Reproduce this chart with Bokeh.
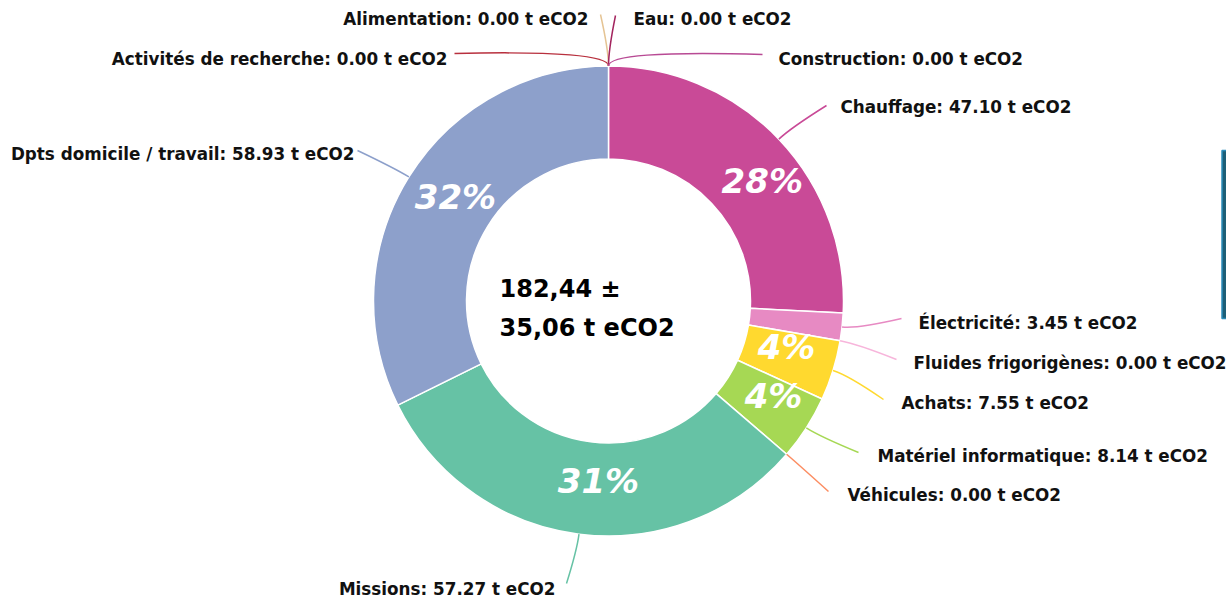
import math
import numpy as np
from bokeh.plotting import figure
from bokeh.models import Range1d, ColumnDataSource
from bokeh.embed import file_html
from bokeh.resources import INLINE
from bokeh.core.properties import value

# ---------------- data ----------------
categories = ["Chauffage", "Électricité", "Fluides frigorigènes", "Achats",
              "Matériel informatique", "Véhicules", "Missions",
              "Dpts domicile / travail", "Activités de recherche",
              "Alimentation", "Eau", "Construction"]
values = [47.10, 3.45, 0.00, 7.55, 8.14, 0.00, 57.27, 58.93, 0.00, 0.00, 0.00, 0.00]
pct_labels = ["28%", "", "", "4%", "4%", "", "31%", "32%", "", "", "", ""]
uncertainty = 35.06
unit = "t eCO2"

# ---------------- styles / layout ----------------
colors = ["#c94a97", "#e78ac3", "#f7b5db", "#ffd92f", "#a6d854", "#fc8d62",
          "#66c2a5", "#8da0cb", "#b8303e", "#e5c494", "#a3245e", "#b84a94"]

W, H = 1226, 599


def sy(y):
    # picture y (from top) -> data y
    return H - y


CX, CY = 608, sy(300.5)
R_OUT, R_IN = 235, 142
R_PCT = 188

# label anchor (picture coords) and alignment
label_pos = [(840, 106, "left"), (918, 322, "left"), (913, 362, "left"),
             (901, 402, "left"), (877, 455, "left"), (847, 494, "left"),
             (555, 588, "right"), (354, 153, "right"), (447, 58, "right"),
             (588, 18, "right"), (633, 18, "left"), (778, 58, "left")]
line_end = [(826, 105), (901, 318), (896, 359), (883, 399), (858, 452),
            (828, 491), (566, 583), (357, 150), (454, 53), (600, 14),
            (615, 15), (762, 54)]
pct_offset = [(17.5, 9.5), (0, 0), (0, 0), (-1.6, -10), (6.8, -7), (0, 0),
              (13.6, -7), (6.6, -5), (0, 0), (0, 0), (0, 0), (0, 0)]

# ---------------- geometry from data ----------------
total = sum(values)
cum = np.concatenate([[0.0], np.cumsum(values)])
start = math.pi / 2 - 2 * math.pi * cum[:-1] / total
end = math.pi / 2 - 2 * math.pi * cum[1:] / total
mid = (start + end) / 2

p = figure(width=W, height=H, x_range=Range1d(0, W), y_range=Range1d(0, H),
           output_backend="svg", toolbar_location=None, min_border=0,
           x_axis_type=None, y_axis_type=None)
p.grid.visible = False
p.outline_line_color = None
p.background_fill_color = "white"
p.border_fill_color = "white"

nz = [i for i, v in enumerate(values) if v > 0]
wsrc = ColumnDataSource(dict(
    start=[start[i] for i in nz], end=[end[i] for i in nz],
    color=[colors[i] for i in nz]))
p.annular_wedge(x=CX, y=CY, inner_radius=R_IN, outer_radius=R_OUT,
                inner_radius_units="screen", outer_radius_units="screen",
                start_angle="start", end_angle="end", direction="clock",
                fill_color="color", line_color="white", line_width=1.5,
                source=wsrc)

# connectors
x0 = CX + R_OUT * np.cos(mid)
y0 = CY + R_OUT * np.sin(mid)
cxs = CX + (R_OUT + 16) * np.cos(mid)
cys = CY + (R_OUT + 16) * np.sin(mid)
csrc = ColumnDataSource(dict(
    x0=x0, y0=y0, cx=cxs, cy=cys,
    x1=[e[0] for e in line_end], y1=[sy(e[1]) for e in line_end],
    color=colors))
p.quadratic(x0="x0", y0="y0", x1="x1", y1="y1", cx="cx", cy="cy",
            line_color="color", line_width=1.5, source=csrc)

# outer labels
lsrc = ColumnDataSource(dict(
    x=[lp[0] for lp in label_pos], y=[sy(lp[1]) for lp in label_pos],
    align=[lp[2] for lp in label_pos],
    text=[f"{c}: {v:.2f} {unit}" for c, v in zip(categories, values)]))
p.text(x="x", y="y", text="text", text_align="align", text_baseline="middle",
       text_font=value("DejaVu Sans"), text_font_style="bold",
       text_font_size="16.8px", text_color="#111111", source=lsrc)

# percentage labels
pi_ = [i for i, t in enumerate(pct_labels) if t]
psrc = ColumnDataSource(dict(
    x=[CX + R_PCT * math.cos(mid[i]) + pct_offset[i][0] for i in pi_],
    y=[CY + R_PCT * math.sin(mid[i]) - pct_offset[i][1] for i in pi_],
    text=[pct_labels[i] for i in pi_]))
p.text(x="x", y="y", text="text", text_align="center", text_baseline="middle",
       text_font=value("DejaVu Sans"), text_font_style="bold italic",
       text_font_size="34px", text_color="white", source=psrc)

# centre text
tot_str = f"{total:.2f}".replace(".", ",")
unc_str = f"{uncertainty:.2f}".replace(".", ",")
p.text(x=[499, 499], y=[sy(288), sy(327)],
       text=[f"{tot_str} ±", f"{unc_str} {unit}"],
       text_align="left", text_baseline="middle",
       text_font=value("DejaVu Sans"), text_font_style="bold",
       text_font_size="24px", text_color="black")

# partial UI element visible at the right edge of the reference
p.quad(left=[1221.5], right=[1227], top=[sy(150)], bottom=[sy(318)],
       fill_color="#1d5f78", line_color="#2b8cba", line_width=1.5)

open("out.html", "w").write(file_html(p, INLINE))
